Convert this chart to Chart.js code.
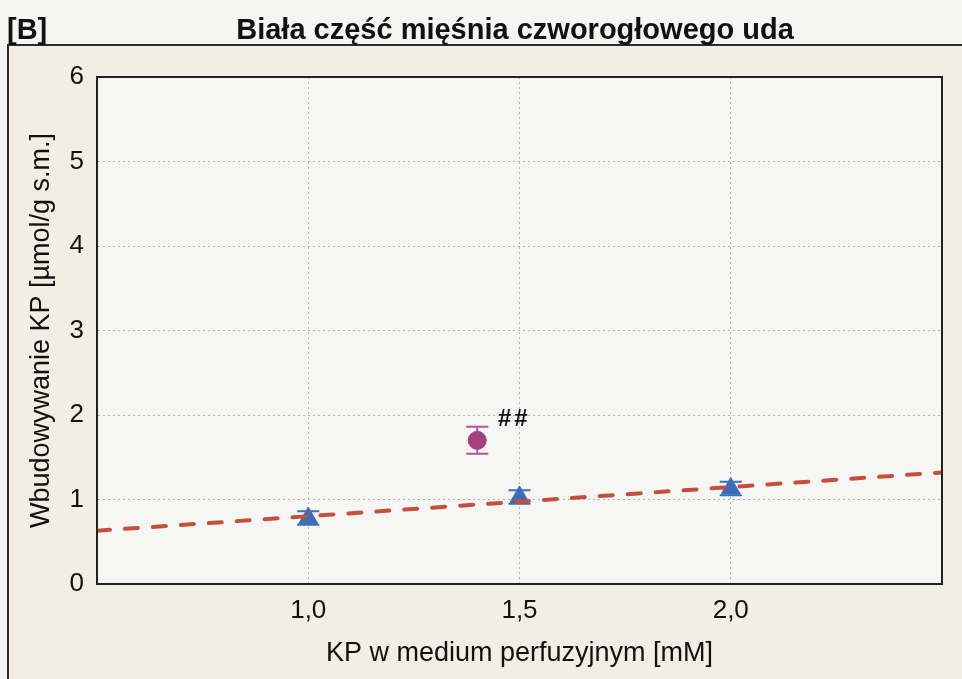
<!DOCTYPE html>
<html>
<head>
<meta charset="utf-8">
<script src="https://cdn.jsdelivr.net/npm/chart.js@4.4.1/dist/chart.umd.min.js"></script>
<style>
  html, body { margin: 0; padding: 0; background: #f5f5f3; }
  #chart { display: block; }
</style>
</head>
<body>
<canvas id="chart" width="962" height="679"></canvas>
<script>
// uptake at each KP concentration (triangles)
const triX = [1.0, 1.5, 2.0];
const triY = [0.78, 1.03, 1.13];
const triErr = [0.08, 0.08, 0.08];

// separate group (circle) with its significance mark
const circX = [1.4];
const circY = [1.70];
const circErr = [0.16];
const circMarks = ['##'];

// ends of the fitted dashed line
const fitX = [0.5, 2.5];
const fitY = [0.63, 1.32];

const xTicks = [1.0, 1.5, 2.0];
const xTickLabels = ['1,0', '1,5', '2,0'];
const yTicks = [0, 1, 2, 3, 4, 5, 6];

const panelTitle = '[B]';
const chartTitle = 'Biała część mięśnia czworogłowego uda';

const FONT = '"Liberation Sans", Arial, sans-serif';

function toPoints(xs, ys) {
    return xs.map((x, i) => ({ x: x, y: ys[i] }));
}

const backgroundPlugin = {
    id: 'panelBackground',
    beforeDraw(chart) {
        const ctx = chart.ctx;
        const a = chart.chartArea;
        ctx.save();
        ctx.fillStyle = '#f5f5f3';
        ctx.fillRect(0, 0, chart.width, chart.height);
        // beige panel
        ctx.fillStyle = '#f1eee3';
        ctx.fillRect(8, 45, chart.width - 8, chart.height - 45);
        ctx.strokeStyle = '#2e2e2e';
        ctx.lineWidth = 2;
        ctx.beginPath();
        ctx.moveTo(8, chart.height);
        ctx.lineTo(8, 45);
        ctx.lineTo(chart.width, 45);
        ctx.stroke();
        // plot area
        ctx.fillStyle = '#f6f6f4';
        ctx.fillRect(a.left, a.top, a.right - a.left, a.bottom - a.top);
        ctx.restore();
    }
};

const errorBarPlugin = {
    id: 'errorBars',
    beforeDatasetsDraw(chart) {
        const ctx = chart.ctx;
        const xs = chart.scales.x, ys = chart.scales.y;
        chart.data.datasets.forEach(ds => {
            if (!ds.errors) return;
            ctx.save();
            ctx.strokeStyle = ds.errorColor;
            ctx.lineWidth = 2;
            ds.data.forEach((p, i) => {
                const px = xs.getPixelForValue(p.x);
                const top = ys.getPixelForValue(p.y + ds.errors[i]);
                const bot = ys.getPixelForValue(p.y - ds.errors[i]);
                ctx.beginPath();
                ctx.moveTo(px, top);
                ctx.lineTo(px, bot);
                ctx.moveTo(px - 11, top);
                ctx.lineTo(px + 11, top);
                ctx.moveTo(px - 11, bot);
                ctx.lineTo(px + 11, bot);
                ctx.stroke();
            });
            ctx.restore();
        });
    }
};

const labelsPlugin = {
    id: 'frameAndLabels',
    afterDraw(chart) {
        const ctx = chart.ctx;
        const a = chart.chartArea;
        const xs = chart.scales.x, ys = chart.scales.y;
        ctx.save();
        ctx.strokeStyle = '#222';
        ctx.lineWidth = 2;
        ctx.strokeRect(a.left, a.top, a.right - a.left, a.bottom - a.top);

        ctx.fillStyle = '#111';
        ctx.textBaseline = 'middle';
        ctx.font = 'bold 29px ' + FONT;
        ctx.textAlign = 'left';
        ctx.fillText(panelTitle, 7, 31);
        ctx.textAlign = 'center';
        ctx.fillText(chartTitle, 515, 31);

        // significance marks next to the circle group
        ctx.font = 'bold 24px ' + FONT;
        ctx.letterSpacing = '3px';
        circMarks.forEach((m, i) => {
            ctx.fillText(m, xs.getPixelForValue(circX[i]) + 37, ys.getPixelForValue(circY[i]) - 21);
        });
        ctx.restore();
    }
};

new Chart(document.getElementById('chart'), {
    type: 'scatter',
    data: {
        datasets: [
            {
                label: 'fit',
                type: 'line',
                data: toPoints(fitX, fitY),
                borderColor: '#c64f3c',
                borderWidth: 4,
                borderDash: [13, 15],
                borderCapStyle: 'round',
                pointRadius: 0,
                fill: false,
                tension: 0
            },
            {
                label: 'circle',
                data: toPoints(circX, circY),
                pointStyle: 'circle',
                pointRadius: 9,
                backgroundColor: '#a3427c',
                borderColor: '#a3427c',
                errors: circErr,
                errorColor: '#b0569a'
            },
            {
                label: 'triangle',
                data: toPoints(triX, triY),
                pointStyle: 'triangle',
                pointRadius: 11,
                backgroundColor: '#3d6db6',
                borderColor: '#3d6db6',
                errors: triErr,
                errorColor: '#3d6db6'
            }
        ]
    },
    options: {
        responsive: false,
        animation: false,
        layout: { padding: { left: 8, right: 20, top: 77, bottom: 0 } },
        plugins: {
            legend: { display: false },
            tooltip: { enabled: false }
        },
        scales: {
            x: {
                type: 'linear',
                min: 0.5,
                max: 2.5,
                afterFit: s => { s.height = 95; },
                afterBuildTicks: s => { s.ticks = xTicks.map(v => ({ value: v })); },
                ticks: {
                    autoSkip: false,
                    maxRotation: 0,
                    padding: 11,
                    color: '#111',
                    font: { family: FONT, size: 26 },
                    callback: v => xTickLabels[xTicks.indexOf(v)]
                },
                grid: {
                    color: '#b4b4b4',
                    lineWidth: 1,
                    drawTicks: false
                },
                border: { display: true, color: '#222', width: 2, dash: [2, 3] },
                title: {
                    display: true,
                    text: 'KP w medium perfuzyjnym [mM]',
                    color: '#111',
                    font: { family: FONT, size: 27 },
                    padding: { top: 0, bottom: 9 }
                }
            },
            y: {
                type: 'linear',
                min: 0,
                max: 6,
                afterFit: s => { s.width = 89; },
                afterBuildTicks: s => { s.ticks = yTicks.map(v => ({ value: v })); },
                ticks: {
                    padding: 13,
                    color: '#111',
                    font: { family: FONT, size: 26 }
                },
                grid: {
                    color: '#b4b4b4',
                    lineWidth: 1,
                    drawTicks: false
                },
                border: { display: true, color: '#222', width: 2, dash: [2, 3] },
                title: {
                    display: true,
                    text: 'Wbudowywanie KP [µmol/g s.m.]',
                    color: '#111',
                    font: { family: FONT, size: 27 },
                    padding: { top: 17, bottom: 0 }
                }
            }
        }
    },
    plugins: [backgroundPlugin, errorBarPlugin, labelsPlugin]
});
</script>
</body>
</html>
